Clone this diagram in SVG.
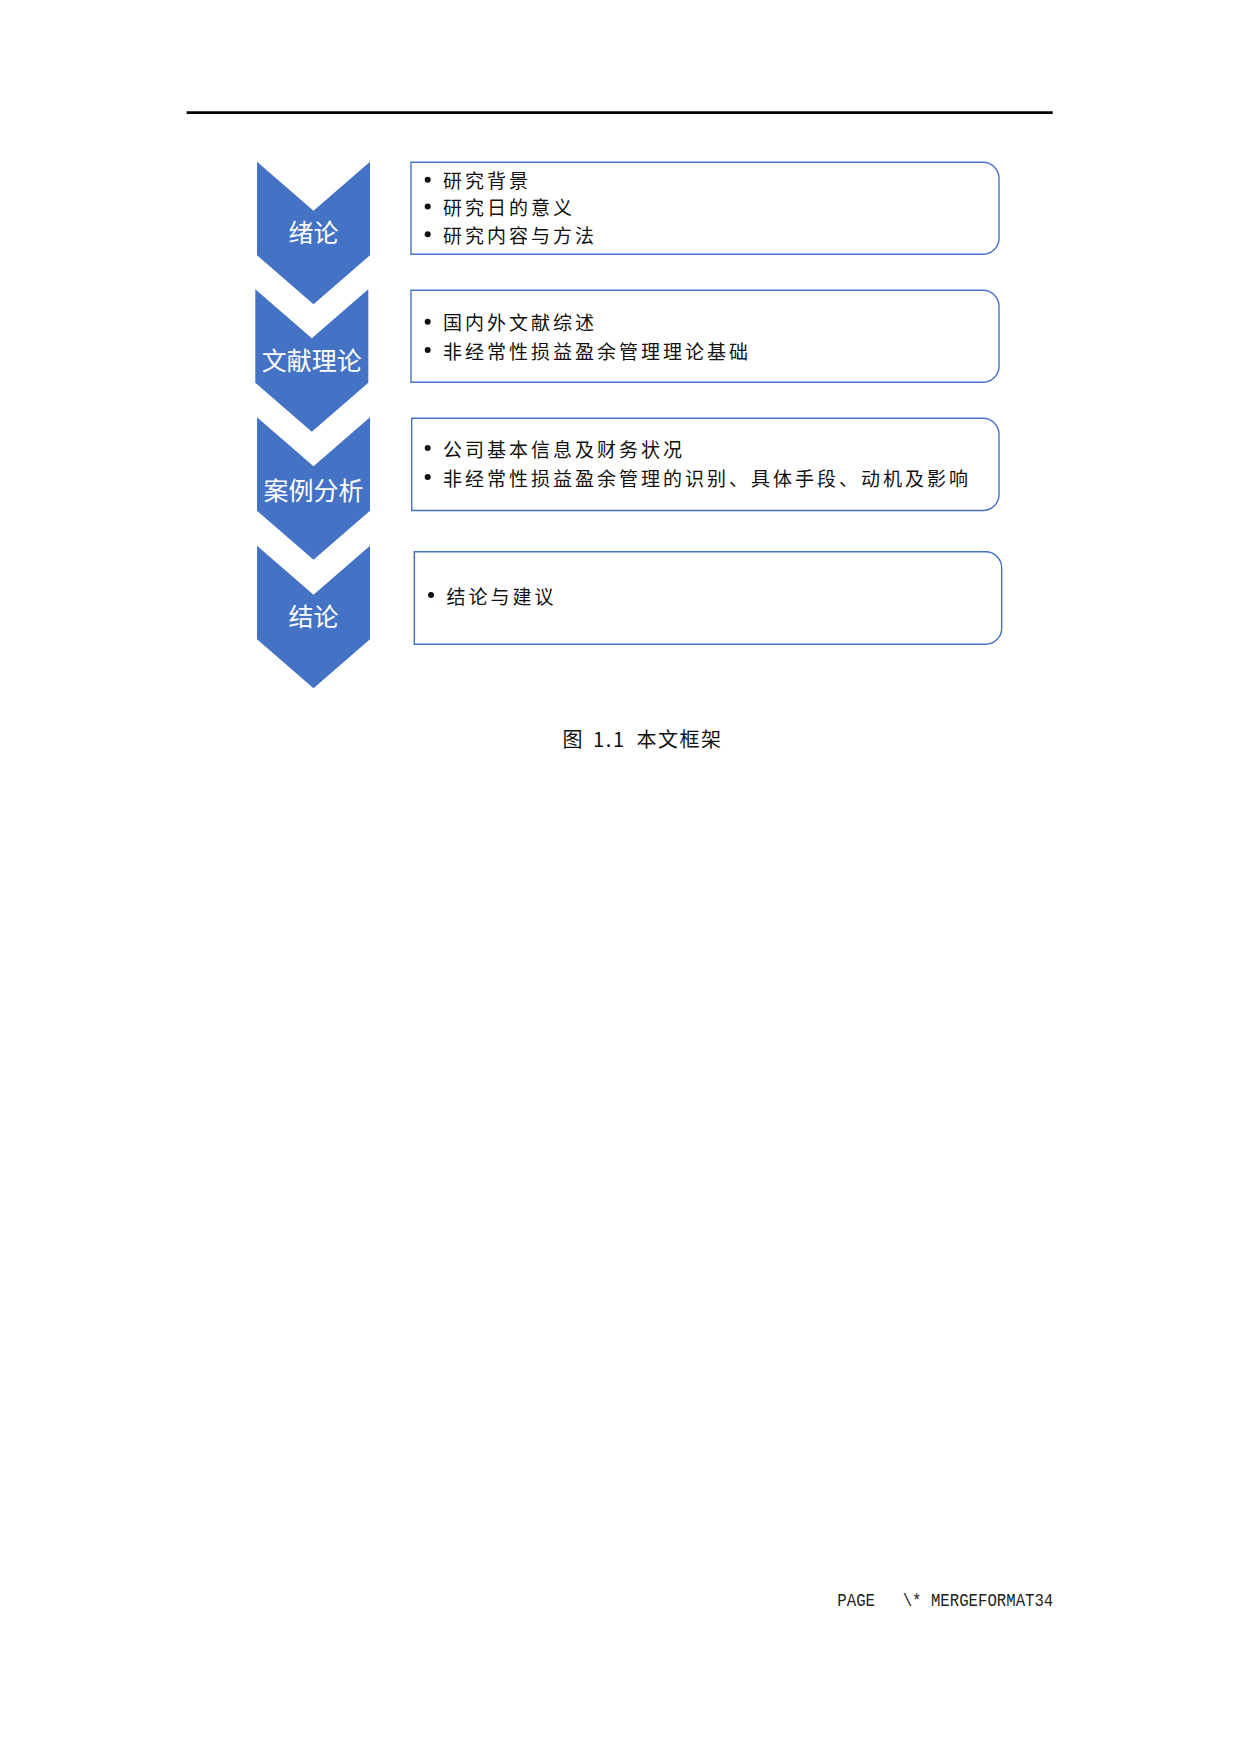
<svg xmlns="http://www.w3.org/2000/svg" width="1240" height="1754" viewBox="0 0 1240 1754">
<defs>
<style>
.chev{fill:#4472C4;}
.box{fill:#fff;stroke:#4472C4;stroke-width:1.4;}
.ct{font-family:"Noto Sans CJK SC","Noto Sans",sans-serif;font-size:25px;fill:#fff;text-anchor:middle;dominant-baseline:central;}
.bt{font-family:"Noto Sans CJK SC","Noto Sans",sans-serif;font-size:19px;fill:#111;letter-spacing:3px;dominant-baseline:central;}
.cap{font-family:"Noto Sans CJK SC","Liberation Serif",serif;font-size:20px;fill:#111;dominant-baseline:central;}
.ft{font-family:"Liberation Mono",monospace;font-size:19px;fill:#222;}
</style>
<path id="chevshape" d="M0,0 L56.5,49 L113,0 L113,93.5 L56.5,142.5 L0,93.5 Z"/>
</defs>
<rect width="1240" height="1754" fill="#fff"/>
<line x1="186.7" y1="112.6" x2="1052.7" y2="112.6" stroke="#000" stroke-width="2.6"/>

<g id="node-xulun">
<use href="#chevshape" class="chev" x="257" y="161.7"/>
<text class="ct" x="313.5" y="231">绪论</text>
</g>
<g id="node-wenxian">
<use href="#chevshape" class="chev" x="255.3" y="289.3"/>
<text class="ct" x="311.8" y="359">文献理论</text>
</g>
<g id="node-anli">
<use href="#chevshape" class="chev" x="257" y="417.3"/>
<text class="ct" x="313.5" y="489">案例分析</text>
</g>
<g id="node-jielun">
<use href="#chevshape" class="chev" x="257" y="545.7"/>
<text class="ct" x="313.5" y="615">结论</text>
</g>

<g id="box-1">
<path class="box" d="M411,162.3 H983 A16,16 0 0 1 999,178.3 V238.3 A16,16 0 0 1 983,254.3 H411 Z"/>
<circle cx="427.7" cy="179.7" r="3" fill="#111"/>
<text class="bt" x="443" y="179.7">研究背景</text>
<circle cx="427.7" cy="206.5" r="3" fill="#111"/>
<text class="bt" x="443" y="206.5">研究日的意义</text>
<circle cx="427.7" cy="234.2" r="3" fill="#111"/>
<text class="bt" x="443" y="234.2">研究内容与方法</text>
</g>
<g id="box-2">
<path class="box" d="M411,290.3 H983 A16,16 0 0 1 999,306.3 V366.3 A16,16 0 0 1 983,382.3 H411 Z"/>
<circle cx="427.7" cy="321.7" r="3" fill="#111"/>
<text class="bt" x="443" y="321.7">国内外文献综述</text>
<circle cx="427.7" cy="350" r="3" fill="#111"/>
<text class="bt" x="443" y="350">非经常性损益盈余管理理论基础</text>
</g>
<g id="box-3">
<path class="box" d="M411.7,418.3 H983 A16,16 0 0 1 999,434.3 V494.5 A16,16 0 0 1 983,510.5 H411.7 Z"/>
<circle cx="427.7" cy="448" r="3" fill="#111"/>
<text class="bt" x="443" y="448">公司基本信息及财务状况</text>
<circle cx="427.7" cy="477" r="3" fill="#111"/>
<text class="bt" x="443" y="477">非经常性损益盈余管理的识别、具体手段、动机及影响</text>
</g>
<g id="box-4">
<path class="box" d="M414.3,551.7 H985.7 A16,16 0 0 1 1001.7,567.7 V628.3 A16,16 0 0 1 985.7,644.3 H414.3 Z"/>
<circle cx="431" cy="595" r="3" fill="#111"/>
<text class="bt" x="446.5" y="595">结论与建议</text>
</g>

<g id="connectors"></g>

<g id="caption">
<text class="cap" x="562.5" y="738">图</text>
<text class="cap" x="593" y="738" font-family="Liberation Serif" textLength="31" lengthAdjust="spacing">1.1</text>
<text class="cap" x="636.5" y="738" letter-spacing="1.5">本文框架</text>
</g>

<g id="footer">
<text class="ft" x="837.3" y="1606" textLength="37.7" lengthAdjust="spacingAndGlyphs">PAGE</text>
<text class="ft" x="902.7" y="1606" textLength="150.6" lengthAdjust="spacingAndGlyphs">\* MERGEFORMAT34</text>
</g>
</svg>
